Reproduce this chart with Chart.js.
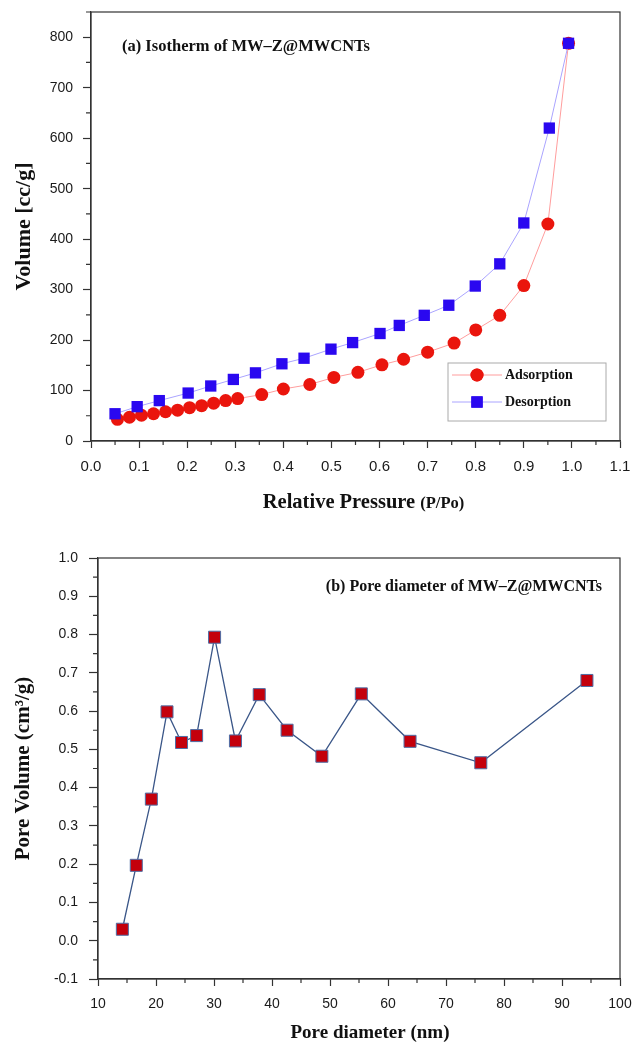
<!DOCTYPE html>
<html>
<head>
<meta charset="utf-8">
<script src="https://cdn.jsdelivr.net/npm/chart.js@4.4.1/dist/chart.umd.min.js"></script>
<style>
body{margin:0;background:#fff;}
#box1{position:absolute;left:0;top:0;width:632px;height:520px;}
#box2{position:absolute;left:0;top:520px;width:632px;height:524px;}
</style>
</head>
<body>
<div id="box1"><canvas id="isoChart"></canvas></div>
<div id="box2"><canvas id="poreChart"></canvas></div>

<script>
// (a) isotherm data
let adsX = [0.055,0.08,0.105,0.13,0.155,0.18,0.205,0.23,0.255,0.28,0.305,0.355,0.40,0.455,0.505,0.555,0.605,0.65,0.70,0.755,0.80,0.85,0.90,0.95,0.993];
let adsY = [43,47,51,54,58,61,66,70,75,80,84,92,103,112,126,136,151,162,176,194,220,249,308,430,788];

let desX = [0.05,0.096,0.142,0.202,0.249,0.296,0.342,0.397,0.443,0.499,0.544,0.601,0.641,0.693,0.744,0.799,0.85,0.90,0.953,0.993];
let desY = [54,68,80,95,109,122,135,153,164,182,195,213,229,249,269,307,351,432,620,788];

// (b) pore diameter data
let poreX = [14.2,16.6,19.2,21.9,24.4,27.0,30.1,33.7,37.8,42.6,48.6,55.4,63.8,76.0,94.3];
let poreY = [0.03,0.197,0.370,0.598,0.518,0.536,0.793,0.522,0.643,0.550,0.482,0.645,0.521,0.465,0.680];

let seriesNames = ["Adsorption","Desorption"];
let titleA = "(a) Isotherm of MW\u2013Z@MWCNTs";
let titleB = "(b) Pore diameter of MW\u2013Z@MWCNTs";

const SANS = "'Liberation Sans', Arial, sans-serif";
const SERIF = "'Liberation Serif', 'Times New Roman', serif";


function pts(xs, ys){
    return xs.map((x, i) => ({x: x, y: ys[i]}));
}


// box round the plot + short minor ticks half way between the major ones
const frame = {
    id: "frame",
    afterDraw(chart){
        let ctx = chart.ctx;
        let a = chart.chartArea;
        ctx.save();
        ctx.strokeStyle = "#333";
        ctx.lineWidth = 1.2;
        ctx.strokeRect(a.left, a.top, a.right - a.left, a.bottom - a.top);

        ctx.beginPath();
        let xs = chart.scales.x;
        let xt = xs.ticks.map(t => t.value);
        let stepX = xt[1] - xt[0];
        for(let v = xt[0] - stepX / 2; v <= xs.max + 1e-9; v += stepX){
            if(v < xs.min - 1e-9) continue;
            let px = xs.getPixelForValue(v);
            ctx.moveTo(px, a.bottom);
            ctx.lineTo(px, a.bottom + 4);
        }
        let ys = chart.scales.y;
        let yt = ys.ticks.map(t => t.value);
        let stepY = yt[1] - yt[0];
        for(let v = yt[0] - stepY / 2; v <= ys.max + 1e-9; v += stepY){
            if(v < ys.min - 1e-9) continue;
            let py = ys.getPixelForValue(v);
            ctx.moveTo(a.left, py);
            ctx.lineTo(a.left - 5, py);
        }
        ctx.stroke();
        ctx.restore();
    }
};


// text inside the plots, legend and the x titles
const notes = {
    id: "notes",
    afterDraw(chart, args, opts){
        let ctx = chart.ctx;
        let a = chart.chartArea;
        ctx.save();
        ctx.fillStyle = "#111";
        ctx.textBaseline = "middle";

        if(opts.which === "a"){
            ctx.font = "bold 16.5px " + SERIF;
            ctx.textAlign = "left";
            ctx.fillText(titleA, a.left + 31, a.top + 35);

            // legend
            let lx = a.right - 172, ly = a.bottom - 78;
            ctx.strokeStyle = "#aaa";
            ctx.lineWidth = 1;
            ctx.strokeRect(lx, ly, 158, 58);
            chart.data.datasets.forEach((ds, i) => {
                let yy = ly + 12 + i * 27;
                ctx.strokeStyle = ds.borderColor;
                ctx.lineWidth = 1;
                ctx.beginPath();
                ctx.moveTo(lx + 4, yy);
                ctx.lineTo(lx + 54, yy);
                ctx.stroke();
                ctx.fillStyle = ds.pointBackgroundColor;
                Chart.helpers.drawPoint(ctx, {pointStyle: ds.pointStyle, radius: ds.pointRadius, rotation: 0}, lx + 29, yy);
                ctx.fill();
                ctx.fillStyle = "#111";
                ctx.font = "bold 14px " + SERIF;
                ctx.fillText(ds.label, lx + 57, yy);
            });

            // x title with smaller (P/Po)
            let big = "Relative Pressure ";
            let small = "(P/Po)";
            ctx.font = "bold 20.5px " + SERIF;
            let w1 = ctx.measureText(big).width;
            ctx.font = "bold 16.5px " + SERIF;
            let w2 = ctx.measureText(small).width;
            let cx = (a.left + a.right) / 2 + 8 - (w1 + w2) / 2;
            let ty = a.bottom + 62;
            ctx.font = "bold 20.5px " + SERIF;
            ctx.fillText(big, cx, ty);
            ctx.font = "bold 16.5px " + SERIF;
            ctx.fillText(small, cx + w1, ty + 1);
        } else {
            ctx.font = "bold 16px " + SERIF;
            ctx.textAlign = "right";
            ctx.fillText(titleB, a.right - 18, a.top + 29);

            ctx.font = "bold 19px " + SERIF;
            ctx.textAlign = "center";
            ctx.fillText("Pore diameter (nm)", (a.left + a.right) / 2 + 11, a.bottom + 54);
        }
        ctx.restore();
    }
};


function axisBase(size){
    return {
        type: "linear",
        border: {display: true, color: "#333", width: 1.2},
        grid: {drawOnChartArea: false, drawTicks: true, tickLength: 8, tickColor: "#333", tickWidth: 1.2},
        ticks: {color: "#1a1a1a", font: {family: SANS, size: size}, includeBounds: false}
    };
}

// fixed box sizes, so the plot area lands where the picture has it
function fixX(h){
    return s => { s.height = h; s.paddingLeft = 0; s.paddingRight = 0; };
}
function fixY(w){
    return s => { s.width = w; s.paddingTop = 0; s.paddingBottom = 0; };
}


function drawIsotherm(){

    let canvas = document.getElementById("isoChart");

    let x = axisBase(15);
    x.min = 0;
    x.max = 1.1;
    x.grid.tickLength = 7;
    x.ticks.stepSize = 0.1;
    x.ticks.padding = 10;
    x.ticks.maxRotation = 0;
    x.ticks.autoSkip = false;
    x.ticks.callback = v => v.toFixed(1);
    x.afterFit = fixX(79);

    let y = axisBase(14);
    y.min = 0;
    y.max = 850;
    y.ticks.stepSize = 100;
    y.ticks.padding = 10;
    y.title = {display: true, text: "Volume [cc/g]", color: "#111", font: {family: SERIF, size: 22, weight: "bold"}, padding: {top: 11, bottom: 0}};
    y.afterFit = fixY(91);

    new Chart(canvas, {
        type: "line",
        data: {
            datasets: [
                {
                    label: seriesNames[0],
                    data: pts(adsX, adsY),
                    borderColor: "#ff9d9d",
                    borderWidth: 1,
                    pointStyle: "circle",
                    pointRadius: 6.5,
                    pointBackgroundColor: "#ea150d",
                    pointBorderWidth: 0,
                    order: 2
                },
                {
                    label: seriesNames[1],
                    data: pts(desX, desY),
                    borderColor: "#aaa4ff",
                    borderWidth: 1,
                    pointStyle: "rect",
                    pointRadius: 8,
                    pointBackgroundColor: "#2a08f0",
                    pointBorderWidth: 0,
                    order: 1
                }
            ]
        },
        options: {
            responsive: true,
            maintainAspectRatio: false,
            animation: false,
            layout: {padding: {left: 0, right: 12, top: 12, bottom: 0}},
            scales: {x: x, y: y},
            plugins: {legend: {display: false}, tooltip: {enabled: false}, notes: {which: "a"}}
        },
        plugins: [frame, notes]
    });
}


function drawPore(){

    let canvas = document.getElementById("poreChart");

    let x = axisBase(14);
    x.min = 10;
    x.max = 100;
    x.grid.tickLength = 7;
    x.ticks.stepSize = 10;
    x.ticks.padding = 10;
    x.ticks.maxRotation = 0;
    x.ticks.autoSkip = false;
    x.afterFit = fixX(65);

    let y = axisBase(14);
    y.min = -0.1;
    y.max = 1.0;
    y.grid.tickLength = 9;
    y.ticks.stepSize = 0.1;
    y.ticks.padding = 11;
    y.ticks.callback = v => v.toFixed(1);
    y.title = {display: true, text: "Pore Volume (cm\u00b3/g)", color: "#111", font: {family: SERIF, size: 21, weight: "bold"}, padding: {top: 11, bottom: 0}};
    y.afterFit = fixY(98);

    new Chart(canvas, {
        type: "line",
        data: {
            datasets: [{
                label: "Pore volume",
                data: pts(poreX, poreY),
                borderColor: "#3a5688",
                borderWidth: 1.3,
                pointStyle: "rect",
                pointRadius: 8.5,
                pointBackgroundColor: "#c4000c",
                pointBorderColor: "#4f6ea6",
                pointBorderWidth: 1
            }]
        },
        options: {
            responsive: true,
            maintainAspectRatio: false,
            animation: false,
            layout: {padding: {left: 0, right: 12, top: 38, bottom: 0}},
            scales: {x: x, y: y},
            plugins: {legend: {display: false}, tooltip: {enabled: false}, notes: {which: "b"}}
        },
        plugins: [frame, notes]
    });
}


drawIsotherm();
drawPore();
</script>
</body>
</html>
